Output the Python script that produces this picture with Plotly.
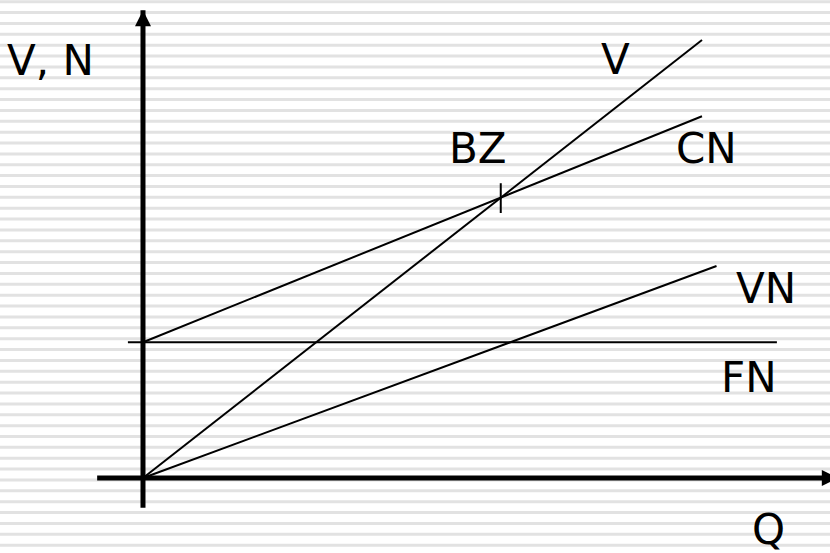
import plotly.graph_objects as go

# Break-even chart (Nutzschwelle): Umsatz V, Kosten CN = FN + VN
q_line = [0, 10]          # Menge Q
v_line = [0, 10]          # Umsatz V
cn_line = [3.1, 8.26]     # Gesamtkosten CN
vn_q = [0, 10.26]
vn_line = [0, 4.84]       # variable Kosten VN
fn_q = [-0.27, 11.34]
fn_line = [3.1, 3.1]      # Fixkosten FN
bz_q = [6.4, 6.4]         # Break-even Q
bz_tick = [6.05, 6.73]

# Achsen (Q-Achse und V,N-Achse)
y_axis_q = [0, 0]
y_axis_v = [-0.68, 10.68]
x_axis_q = [-0.82, 12.43]
x_axis_v = [0, 0]

labels = ["V, N", "V", "BZ", "CN", "VN", "FN", "Q"]
label_pos = [(50, 60), (615, 59), (478, 149), (706, 149),
             (766, 288), (749, 377), (768, 529)]

W, H = 830, 553
x_range = [-2.558, 12.29]
y_range = [-1.712, 10.913]
sx = W / (x_range[1] - x_range[0])   # Pixel je Q-Einheit
sy = H / (y_range[1] - y_range[0])   # Pixel je V-Einheit
head = 16                            # Pfeilspitze in Pixel

fig = go.Figure()

thin = dict(color="black", width=2)
fig.add_trace(go.Scatter(x=q_line, y=v_line, mode="lines", line=thin))
fig.add_trace(go.Scatter(x=q_line, y=cn_line, mode="lines", line=thin))
fig.add_trace(go.Scatter(x=vn_q, y=vn_line, mode="lines", line=thin))
fig.add_trace(go.Scatter(x=fn_q, y=fn_line, mode="lines", line=thin))
fig.add_trace(go.Scatter(x=bz_q, y=bz_tick, mode="lines", line=thin))

thick = dict(color="black", width=5)
fig.add_trace(go.Scatter(x=y_axis_q, y=y_axis_v, mode="lines", line=thick,
                         cliponaxis=False))
fig.add_trace(go.Scatter(x=x_axis_q, y=x_axis_v, mode="lines", line=thick,
                         cliponaxis=False))

# Pfeilspitzen als gefuellte Dreiecke
tq, tv = y_axis_q[1], y_axis_v[1]
fig.add_trace(go.Scatter(
    x=[tq - head / 2 / sx, tq + head / 2 / sx, tq, tq - head / 2 / sx],
    y=[tv - head / sy, tv - head / sy, tv, tv - head / sy],
    mode="lines", fill="toself", fillcolor="black",
    line=dict(color="black", width=0), cliponaxis=False))
tq, tv = x_axis_q[1], x_axis_v[1]
fig.add_trace(go.Scatter(
    x=[tq - head / sx, tq - head / sx, tq, tq - head / sx],
    y=[tv - head / 2 / sy, tv + head / 2 / sy, tv, tv - head / 2 / sy],
    mode="lines", fill="toself", fillcolor="black",
    line=dict(color="black", width=0), cliponaxis=False))

# Hintergrund: horizontale Streifen
shapes = []
y = 1.7
while y < H:
    shapes.append(dict(type="line", xref="paper", yref="paper",
                       x0=0, x1=1, y0=1 - y / H, y1=1 - y / H,
                       line=dict(color="#e2e2e2", width=3), layer="below"))
    y += 10.87

annotations = []
for txt, (px, py) in zip(labels, label_pos):
    annotations.append(dict(x=px / W, y=1 - py / H, xref="paper", yref="paper",
                            text=txt, showarrow=False, xanchor="center",
                            yanchor="middle",
                            font=dict(family="DejaVu Sans", size=42,
                                      color="black")))

fig.update_layout(
    width=W, height=H,
    margin=dict(l=0, r=0, t=0, b=0),
    paper_bgcolor="white", plot_bgcolor="rgba(0,0,0,0)",
    showlegend=False,
    hovermode=False,
    xaxis=dict(range=x_range, visible=False, fixedrange=True),
    yaxis=dict(range=y_range, visible=False, fixedrange=True),
    shapes=shapes,
    annotations=annotations,
)

fig.write_html("out.html", config={"displayModeBar": False},
               post_script="document.body.style.margin='0px';")
